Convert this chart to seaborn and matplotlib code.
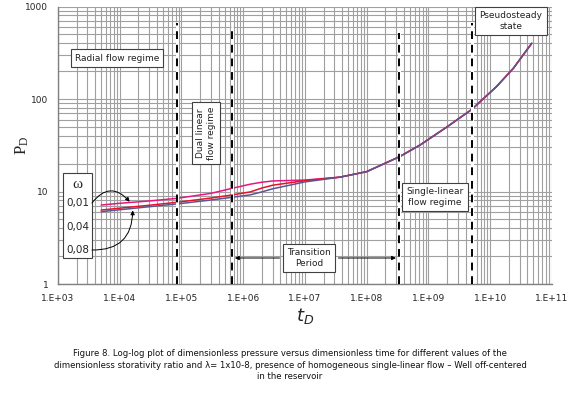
import numpy as np
import pandas as pd
import matplotlib
matplotlib.use('Agg')
import matplotlib.pyplot as plt
import matplotlib.ticker as mticker
from matplotlib.patches import Rectangle
import seaborn as sns

# dimensionless time and pressure
t_d = [5e3, 1e4, 3e4, 8.4e4, 3e5, 6.5e5, 1.3e6, 2e6, 3e6, 1e7, 3.7e7, 1e8,
       3.4e8, 7.3e8, 2e9, 5e9, 1.26e10, 2.37e10, 4.7e10]
p_w001 = [7.14, 7.46, 7.9, 8.43, 9.55, 10.8, 12.0, 12.6, 13.0, 13.3, 14.3, 16.4,
          23.8, 31.8, 50, 77, 136, 215, 400]
p_w004 = [6.3, 6.6, 7.1, 7.64, 8.5, 9.17, 9.9, 10.9, 11.7, 13.1, 14.3, 16.4,
          23.8, 31.8, 50, 77, 136, 215, 400]
p_w008 = [6.05, 6.35, 6.85, 7.33, 8.1, 8.65, 9.2, 9.9, 10.7, 12.7, 14.3, 16.4,
          23.8, 31.8, 50, 77, 136, 215, 400]
omega_labels = ['0,01', '0,04', '0,08']
line_colors = ['#e8177f', '#e8102a', '#5b5690']

# flow regime boundaries (t_D) and top of each dashed line (P_D)
boundaries = [8.5e4, 6.6e5, 3.3e8, 5e9]
boundary_tops = [660, 590, 520, 660]

x_ticks = [1e3, 1e4, 1e5, 1e6, 1e7, 1e8, 1e9, 1e10, 1e11]
x_tick_labels = ['1.E+03', '1.E+04', '1.E+05', '1.E+06', '1.E+07',
                 '1.E+08', '1.E+09', '1.E+10', '1.E+11']
y_ticks = [1, 10, 100, 1000]
y_tick_labels = ['1', '10', '100', '1000']

caption = ('Figure 8. Log-log plot of dimensionless pressure versus dimensionless time for different values of the\n'
           'dimensionless storativity ratio and \u03bb= 1x10-8, presence of homogeneous single-linear flow \u2013 Well off-centered\n'
           'in the reservoir')

df = pd.concat([
    pd.DataFrame({'t': t_d, 'P': p, 'omega': w})
    for p, w in zip([p_w001, p_w004, p_w008], omega_labels)
])

sns.set_style('white')
plt.rcParams['font.family'] = ['DejaVu Sans']

fig = plt.figure(figsize=(5.8, 3.99), dpi=100)
ax = fig.add_axes([0.1, 0.2882, 0.8517, 0.6955])
ax.set_xscale('log')
ax.set_yscale('log')

sns.lineplot(data=df, x='t', y='P', hue='omega', palette=line_colors,
             estimator=None, sort=False, legend=False, linewidth=1.1, ax=ax)

ax.set_xlim(1e3, 1e11)
ax.set_ylim(1, 1000)

ax.xaxis.set_major_locator(mticker.FixedLocator(x_ticks))
ax.xaxis.set_major_formatter(mticker.FixedFormatter(x_tick_labels))
ax.yaxis.set_major_locator(mticker.FixedLocator(y_ticks))
ax.yaxis.set_major_formatter(mticker.FixedFormatter(y_tick_labels))
ax.xaxis.set_minor_locator(mticker.LogLocator(base=10, subs=np.arange(2, 10), numticks=20))
ax.yaxis.set_minor_locator(mticker.LogLocator(base=10, subs=np.arange(2, 10), numticks=20))
ax.yaxis.set_minor_formatter(mticker.NullFormatter())
ax.xaxis.set_minor_formatter(mticker.NullFormatter())

ax.grid(which='both', color='#a0a0a0', linewidth=0.8)
ax.set_axisbelow(True)
for s in ['top', 'right']:
    ax.spines[s].set_visible(False)
for s in ['left', 'bottom']:
    ax.spines[s].set_color('#808080')
    ax.spines[s].set_linewidth(1.0)
ax.tick_params(which='major', direction='out', length=3, color='#808080',
               labelsize=6.5, pad=4)
ax.tick_params(axis='x', which='minor', direction='out', length=2, color='#808080')
ax.tick_params(axis='y', which='minor', length=0)

# regime boundaries
for xb, top in zip(boundaries, boundary_tops):
    ax.plot([xb, xb], [1, top], color='white', linewidth=2.2, zorder=3)
    ax.plot([xb, xb], [1, top], color='black', linewidth=1.4,
            linestyle=(0, (4, 3)), zorder=4)

box = dict(boxstyle='square,pad=0.45', fc='white', ec='#404040', lw=0.8)
txt = dict(transform=ax.transAxes, ha='center', va='center', fontsize=6.5,
           color='#222222', zorder=6)
ax.text(0.1194, 0.8144, 'Radial flow regime', bbox=box, **txt)
ax.text(0.2996, 0.5441, 'Dual linear\nflow regime', rotation=90, bbox=box, **txt)
ax.text(0.917, 0.948, 'Pseudosteady\nstate', bbox=box, **txt)
ax.text(0.763, 0.3135, 'Single-linear\nflow regime', bbox=box, **txt)
ax.text(0.508, 0.0937, 'Transition\nPeriod', bbox=box, **txt)

# transition arrows
arrow = dict(arrowstyle='-|>', color='black', lw=0.7, mutation_scale=6)
ax.annotate('', xy=(boundaries[1], 0.0937), xycoords=('data', 'axes fraction'),
            xytext=(0.454, 0.0937), textcoords='axes fraction', arrowprops=arrow, zorder=6)
ax.annotate('', xy=(boundaries[2], 0.0937), xycoords=('data', 'axes fraction'),
            xytext=(0.562, 0.0937), textcoords='axes fraction', arrowprops=arrow, zorder=6)

# omega legend box
ax.add_patch(Rectangle((0.0101, 0.0937), 0.0587, 0.3074, transform=ax.transAxes,
                       fc='white', ec='#404040', lw=0.8, zorder=6))
ax.text(0.0395, 0.357, '\u03c9', transform=ax.transAxes, ha='center', va='center',
        fontsize=11, family='Liberation Serif', zorder=7)
for yy, lab in zip([0.292, 0.205, 0.1225], omega_labels):
    ax.text(0.0395, yy, lab, transform=ax.transAxes, ha='center', va='center',
            fontsize=7.5, zorder=7)
ax.annotate('', xy=(1.45e4, 7.75), xycoords='data', xytext=(0.0688, 0.292),
            textcoords='axes fraction',
            arrowprops=dict(arrowstyle='-|>', color='black', lw=0.7, mutation_scale=6,
                            connectionstyle='arc3,rad=-0.6', shrinkA=0, shrinkB=0), zorder=7)
ax.annotate('', xy=(1.62e4, 6.25), xycoords='data', xytext=(0.0688, 0.1225),
            textcoords='axes fraction',
            arrowprops=dict(arrowstyle='-|>', color='black', lw=0.7, mutation_scale=6,
                            connectionstyle='arc3,rad=0.5', shrinkA=0, shrinkB=0), zorder=7)

ax.set_xlabel(r'$t_D$', fontsize=13, labelpad=2)
ax.set_ylabel(r'$\mathregular{P_D}$', fontsize=12, family='Liberation Serif')
ax.yaxis.set_label_coords(-0.055, 0.5)

fig.text(0.5, 0.085, caption, ha='center', va='center', fontsize=6.1,
         linespacing=1.3, color='#111111')

fig.savefig('out.png', dpi=100)
